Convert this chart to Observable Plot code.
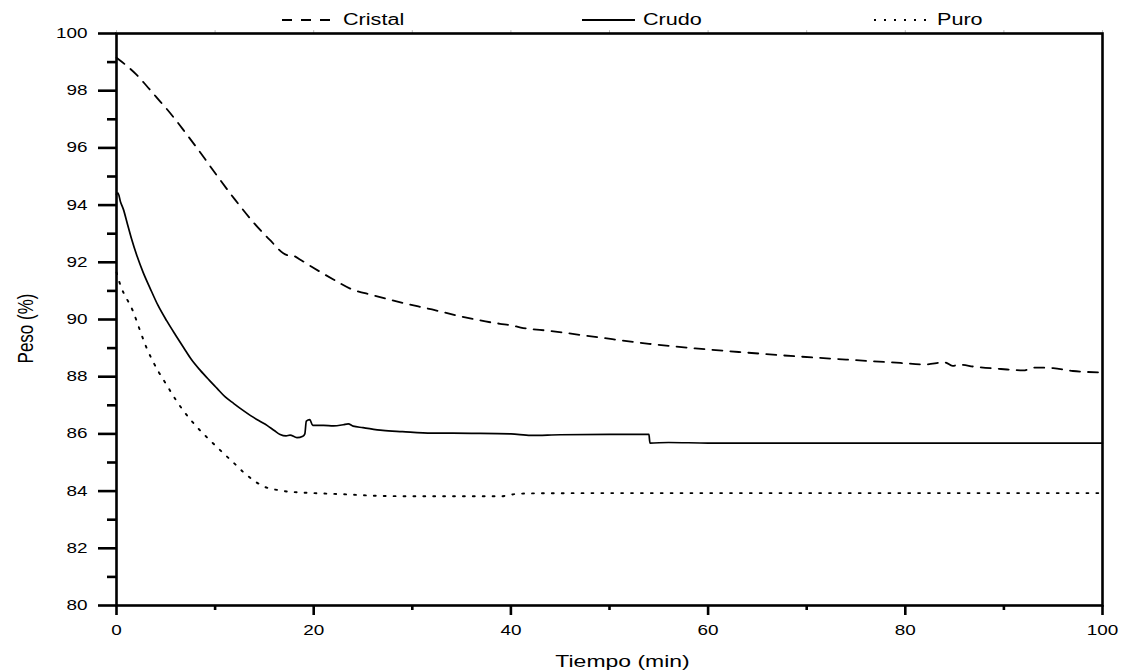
<!DOCTYPE html>
<html>
<head>
<meta charset="utf-8">
<script src="https://cdn.jsdelivr.net/npm/d3@7"></script>
<script src="https://cdn.jsdelivr.net/npm/@observablehq/plot@0.6"></script>
<style>
  html, body { margin: 0; padding: 0; background: #fff; }
  #wrap { position: relative; width: 1129px; height: 671px; font-family: "Liberation Sans", Arial, Helvetica, sans-serif; }
  .lg-text { position: absolute; top: 11.5px; font-size: 16px; line-height: 16px; color: #000; transform: scaleX(1.35); transform-origin: left center; white-space: nowrap; }
  .lg-sw { position: absolute; top: 19px; height: 2px; }
</style>
</head>
<body>
<div id="wrap">
  <div id="legend"></div>
</div>
<script>
// ---- Data ----
const seriesNames = ["Cristal", "Crudo", "Puro"];

const cristalTime = [0, 1, 2, 3, 4, 5, 6, 7, 8, 9, 10, 12, 14, 15.5, 17.3, 18, 18.6, 20, 22, 23.7, 26, 28.8, 32, 35, 38.9, 40, 41, 44, 49, 54, 59, 64, 69, 74, 79.5, 82, 84, 84.8, 85.5, 87, 89.7, 92, 93, 95, 97, 100];
const cristalPeso = [99.15, 98.88, 98.57, 98.19, 97.79, 97.4, 96.98, 96.53, 96.07, 95.6, 95.12, 94.2, 93.35, 92.8, 92.25, 92.22, 92.1, 91.8, 91.4, 91.08, 90.85, 90.6, 90.35, 90.1, 89.85, 89.8, 89.72, 89.6, 89.37, 89.15, 88.98, 88.84, 88.71, 88.6, 88.48, 88.43, 88.5, 88.38, 88.42, 88.35, 88.27, 88.22, 88.32, 88.3, 88.2, 88.15];

const crudoTime = [0, 0.15, 0.4, 0.7, 1.1, 1.5, 2.1, 2.7, 3.4, 4.2, 5.1, 6, 6.8, 7.6, 8.5, 9.4, 10.2, 11, 11.9, 12.8, 13.6, 14.5, 15.3, 16, 16.6, 17.2, 17.6, 18.3, 18.9, 19.1, 19.25, 19.6, 19.9, 21, 22, 23, 23.5, 24, 25, 27, 29, 32, 36, 40, 42, 45, 50, 54, 54.1, 56, 60, 70, 80, 90, 100];
const crudoPeso = [94.38, 94.42, 94.12, 93.85, 93.35, 92.85, 92.2, 91.65, 91.1, 90.5, 89.95, 89.45, 89.02, 88.6, 88.22, 87.88, 87.59, 87.3, 87.06, 86.83, 86.64, 86.45, 86.29, 86.12, 85.98, 85.93, 85.96, 85.87, 85.92, 86.0, 86.45, 86.5, 86.3, 86.3, 86.28, 86.32, 86.35, 86.27, 86.22, 86.12, 86.08, 86.03, 86.02, 86.0, 85.95, 85.97, 85.98, 85.98, 85.68, 85.7, 85.68, 85.68, 85.68, 85.68, 85.68];

const puroTime = [0, 0.5, 1, 1.6, 2.4, 3, 3.6, 4.3, 5, 6, 6.7, 8, 9.5, 11.1, 12, 13, 14, 15, 16, 17, 18.7, 20, 23.7, 26, 30, 35, 39, 40.5, 42, 50, 60, 70, 80, 90, 100];
const puroPeso = [91.65, 91.1, 90.75, 90.35, 89.6, 89.05, 88.6, 88.15, 87.76, 87.2, 86.85, 86.3, 85.77, 85.24, 84.95, 84.62, 84.35, 84.15, 84.06, 84.0, 83.95, 83.93, 83.88, 83.84, 83.82, 83.82, 83.82, 83.9, 83.92, 83.93, 83.93, 83.93, 83.93, 83.93, 83.93];

const xMajorTicks = [0, 20, 40, 60, 80, 100];
const xMinorTicks = [10, 30, 50, 70, 90];
const yMajorTicks = [80, 82, 84, 86, 88, 90, 92, 94, 96, 98, 100];
const yMinorTicks = [81, 83, 85, 87, 89, 91, 93, 95, 97, 99];
const xTitle = "Tiempo (min)";
const yTitle = "Peso (%)";

// ---- Build tables ----
const rows = (T, V) => T.map((t, i) => ({t, v: V[i]}));
const cristal = rows(cristalTime, cristalPeso);
const crudo = rows(crudoTime, crudoPeso);
const puro = rows(puroTime, puroPeso);

const chart = Plot.plot({
  width: 1129,
  height: 671,
  marginLeft: 116,
  marginRight: 27,
  marginTop: 33,
  marginBottom: 66,
  style: {fontFamily: "'Liberation Sans', Arial, Helvetica, sans-serif", fontSize: "14px", background: "#fff", color: "#000"},
  x: {domain: [0, 100]},
  y: {domain: [80, 100]},
  marks: [
    Plot.ruleX(xMajorTicks.concat(xMinorTicks), {y1: 100, y2: 100.1, stroke: "#bbb", strokeWidth: 1}),
    Plot.line(cristal, {x: "t", y: "v", stroke: "#000", strokeWidth: 1.8, strokeDasharray: "10,8", curve: "monotone-x"}),
    Plot.line(crudo, {x: "t", y: "v", stroke: "#000", strokeWidth: 1.7, curve: "monotone-x"}),
    Plot.line(puro, {x: "t", y: "v", stroke: "#000", strokeWidth: 1.9, strokeDasharray: "1.9,8", curve: "monotone-x"}),
    Plot.frame({stroke: "#000", strokeWidth: 2.6}),
    Plot.axisX({ticks: xMajorTicks, tickSize: 10, tickPadding: 10, fontSize: 14, strokeWidth: 2.6, label: null}),
    Plot.axisX({ticks: xMinorTicks, tickSize: 5, tickFormat: () => "", strokeWidth: 2.6, label: null}),
    Plot.axisY({ticks: yMajorTicks, tickSize: 18, tickPadding: 11, fontSize: 14, strokeWidth: 2.6, label: null}),
    Plot.axisY({ticks: yMinorTicks, tickSize: 9, tickFormat: () => "", strokeWidth: 2.6, label: null}),
    Plot.text([xTitle], {text: d => d, frameAnchor: "bottom", textAnchor: "middle", lineAnchor: "bottom", dx: 13, dy: 61, fontSize: 17}),
    Plot.text([yTitle], {text: d => d, frameAnchor: "left", textAnchor: "middle", rotate: -90, lineAnchor: "bottom", dx: -84, dy: 9, fontSize: 17})
  ]
});

// widen the glyphs horizontally, like the reference
chart.querySelectorAll("text").forEach(el => {
  const t = el.getAttribute("transform") || "";
  if (t.includes("rotate")) {
    el.setAttribute("transform", t + " scale(1,1.35)");
  } else {
    const x = parseFloat(el.getAttribute("x")) || 0;
    el.setAttribute("transform", `${t} translate(${x},0) scale(1.35,1) translate(${-x},0)`);
  }
});

document.getElementById("wrap").appendChild(chart);

// ---- Legend (HTML, above the frame) ----
const legendSpec = [
  {name: seriesNames[0], swLeft: 282, swWidth: 48, bg: "repeating-linear-gradient(to right, #000 0 10px, transparent 10px 19px)", textLeft: 343},
  {name: seriesNames[1], swLeft: 582, swWidth: 53, bg: "#000", textLeft: 643},
  {name: seriesNames[2], swLeft: 874, swWidth: 52, bg: "repeating-linear-gradient(to right, #000 0 2px, transparent 2px 10px)", textLeft: 937}
];
const legend = document.getElementById("legend");
legendSpec.forEach(s => {
  const sw = document.createElement("div");
  sw.className = "lg-sw";
  sw.style.left = s.swLeft + "px";
  sw.style.width = s.swWidth + "px";
  sw.style.background = s.bg;
  legend.appendChild(sw);
  const tx = document.createElement("div");
  tx.className = "lg-text";
  tx.style.left = s.textLeft + "px";
  tx.textContent = s.name;
  legend.appendChild(tx);
});
</script>
</body>
</html>
